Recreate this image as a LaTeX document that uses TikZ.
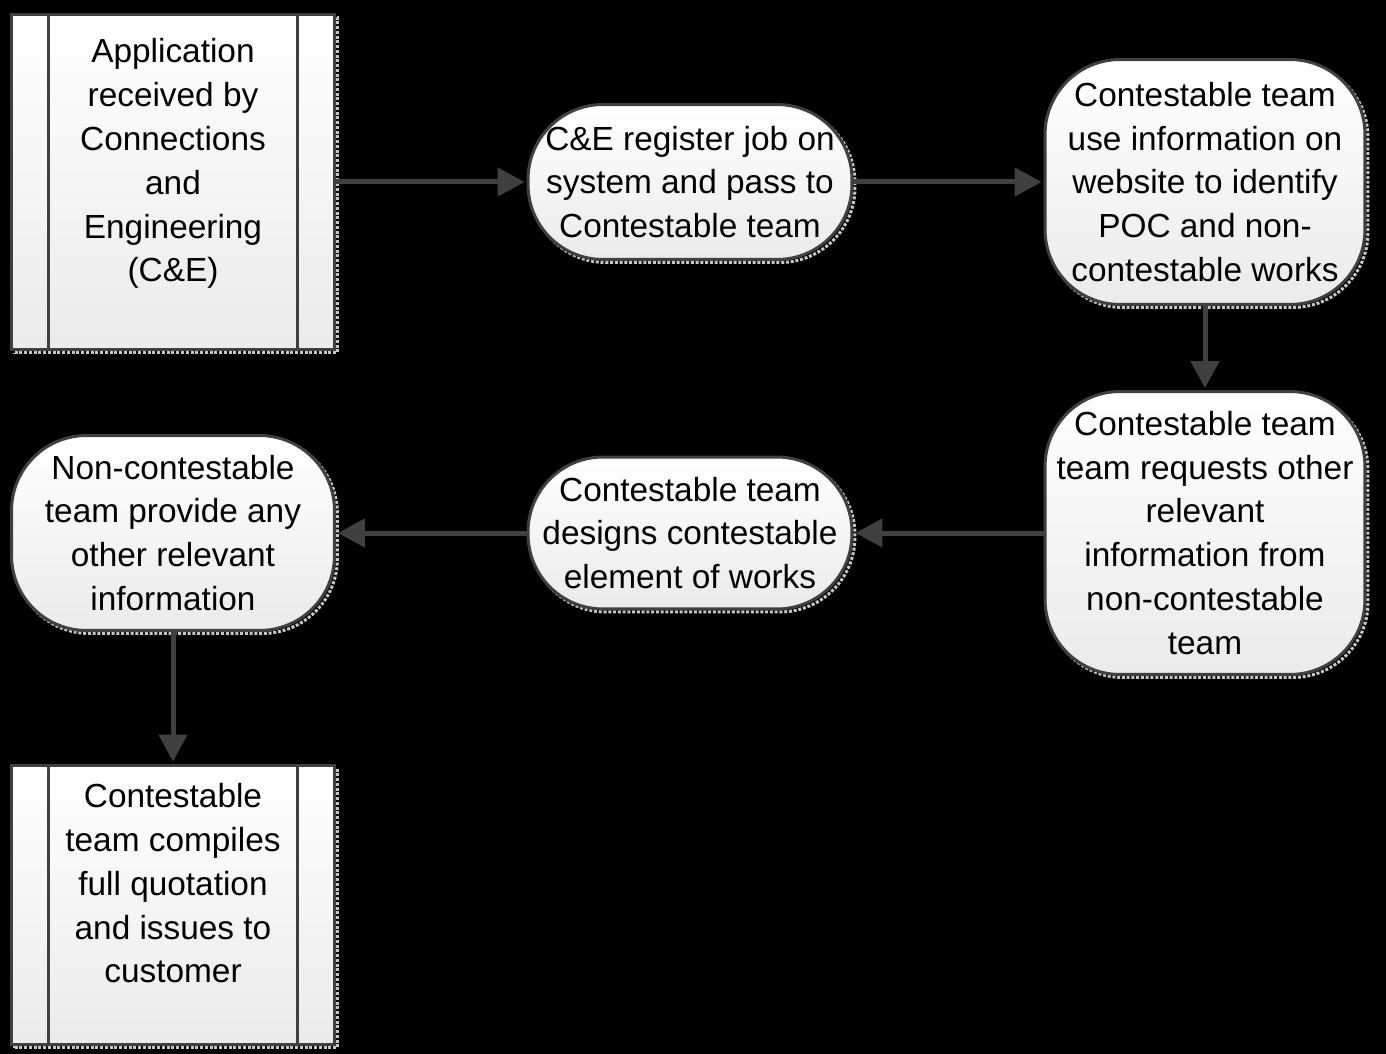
\documentclass[tikz,border=0pt]{standalone}
\usepackage{fontspec}
\setmainfont{Liberation Sans}
\usetikzlibrary{arrows.meta}

\begin{document}
\begin{tikzpicture}[x=0.02cm, y=-0.02cm,
	box/.style={draw=black!75, line width=0.06cm, top color=white, bottom color=black!8,
		align=center, inner sep=0pt, font=\fontsize{19}{25}\selectfont,
		preaction={draw=black!22, densely dotted, line width=0.06cm,
			transform canvas={shift={(0.06cm,-0.06cm)}}}},
	predef/.style={box, rectangle, minimum width=6.46cm},
	step box/.style={box, rectangle, rounded corners=1.5cm},
	flow/.style={draw=black!75, line width=0.1cm, shorten >=0.04cm,
		-{Triangle[length=0.54cm, width=0.56cm]}}]

	% Background
	\fill [black] (0,0) rectangle (1386,1054);

	% Top row
	\node (app) at (173,182) [predef, minimum height=6.72cm]
		{Application\\received by\\Connections\\and\\Engineering\\(C\&E)\\\mbox{}};
	\node (register) at (690,182) [step box, minimum width=6.48cm, minimum height=3.1cm]
		{C\&E register job on\\system and pass to\\Contestable team};
	\node (identify) at (1205,182) [step box, minimum width=6.4cm, minimum height=4.9cm]
		{Contestable team\\use information on\\website to identify\\POC and non-\\contestable works};

	% Middle row
	\node (request) at (1205,533) [step box, minimum width=6.4cm, minimum height=5.66cm]
		{Contestable team\\team requests other\\relevant\\information from\\non-contestable\\team};
	\node (design) at (690,533) [step box, minimum width=6.48cm, minimum height=3.04cm]
		{Contestable team\\designs contestable\\element of works};
	\node (provide) at (173,533) [step box, minimum width=6.46cm, minimum height=3.9cm]
		{Non-contestable\\team provide any\\other relevant\\information};

	% Bottom row
	\node (quote) at (173,905) [predef, minimum height=5.6cm]
		{Contestable\\team compiles\\full quotation\\and issues to\\customer\\\mbox{}};

	% Inner bars of the predefined process boxes
	\foreach \n in {app,quote}{
		\draw [draw=black!75, line width=0.06cm] ([xshift=0.76cm]\n.north west) -- ([xshift=0.76cm]\n.south west);
		\draw [draw=black!75, line width=0.06cm] ([xshift=-0.76cm]\n.north east) -- ([xshift=-0.76cm]\n.south east);
	}

	% Connectors
	\foreach \a/\b in {app/register, register/identify, identify/request, request/design, design/provide, provide/quote}{
		\draw [flow] (\a) -- (\b);
	}

\end{tikzpicture}
\end{document}
